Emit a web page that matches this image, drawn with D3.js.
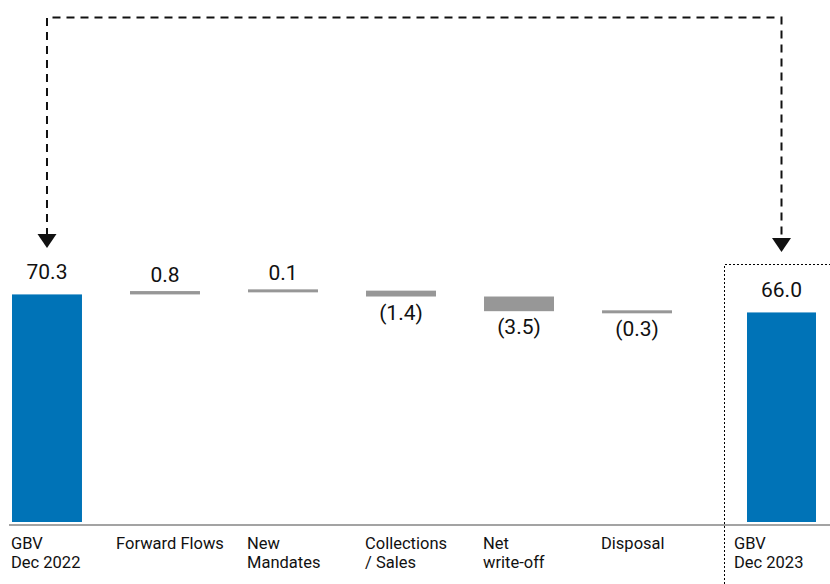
<!DOCTYPE html>
<html>
<head>
<meta charset="utf-8">
<script src="https://cdn.jsdelivr.net/npm/d3@7"></script>
<style>
  body { margin: 0; background: #fff; }
  svg text { font-family: Roboto, "Liberation Sans", sans-serif; fill: #111; }
</style>
</head>
<body>
<svg id="chart" width="830" height="584"></svg>
<script>
// Gross book value bridge, EUR bn
const stepCategories = ["GBV\nDec 2022", "Forward Flows", "New\nMandates", "Collections\n/ Sales", "Net\nwrite-off", "Disposal"];
const closingCategory = "GBV\nDec 2023";
const openingValue = 70.3;
const stepValues = [0.8, 0.1, -1.4, -3.5, -0.3];
const closingValue = 66.0;

const BLUE = "#0073b7";
const GREY = "#979797";

const svg = d3.select("#chart");
const W = 830, H = 584;
const baseY = 522;
const panelX = 724.5;

// build waterfall rows
let running = openingValue;
const rows = [{ cat: stepCategories[0], y0: 0, y1: openingValue, value: openingValue, total: true }];
stepValues.forEach((v, i) => {
  rows.push({ cat: stepCategories[i + 1], y0: running, y1: running + v, value: v, total: false });
  running += v;
});
const closing = { cat: closingCategory, y0: 0, y1: closingValue, value: closingValue, total: true };

// scales: value axis is broken (floor at 16) so the small movements stay visible
const y = d3.scaleLinear().domain([16, 84]).range([baseY, 237]);
const x = d3.scaleBand().domain(stepCategories).range([12, 672]).paddingInner(0.407).paddingOuter(0);
const xEnd = d3.scaleBand().domain([closingCategory]).range([747, 816]);

const fmt = d3.format(".1f");
const label = v => v < 0 ? "(" + fmt(-v) + ")" : fmt(v);

function barTop(d) {
  if (d.total) return y(d.y1);
  const t = y(Math.max(d.y0, d.y1));
  const b = y(Math.min(d.y0, d.y1));
  const h = Math.max(b - t, 3);
  return (t + b) / 2 - h / 2;
}
function barHeight(d) {
  if (d.total) return baseY - y(d.y1);
  return Math.max(Math.abs(y(d.y0) - y(d.y1)), 3);
}

// closing panel (dotted frame)
svg.append("path")
  .attr("d", `M${panelX},${H} V264.5 H${W}`)
  .attr("fill", "none").attr("stroke", "#000").attr("stroke-width", 1)
  .attr("stroke-dasharray", "2,2");

// baseline
svg.append("line")
  .attr("x1", 9).attr("x2", W).attr("y1", 525).attr("y2", 525)
  .attr("stroke", "#a3a3a3").attr("stroke-width", 2);

// bars
const bars = rows.map(d => ({ ...d, xs: x })).concat([{ ...closing, xs: xEnd, inPanel: true }]);
svg.selectAll("rect.bar").data(bars).join("rect")
  .attr("class", "bar")
  .attr("x", d => d.xs(d.cat))
  .attr("width", d => d.xs.bandwidth())
  .attr("y", d => barTop(d))
  .attr("height", d => barHeight(d))
  .attr("fill", d => d.total ? BLUE : GREY);

// value labels
svg.selectAll("text.val").data(bars).join("text")
  .attr("class", "val")
  .attr("x", d => d.xs(d.cat) + d.xs.bandwidth() / 2)
  .attr("y", d => {
    if (d.total) return barTop(d) - 15;
    if (d.value >= 0) return barTop(d) - 9;
    return barTop(d) + barHeight(d) + 23;
  })
  .attr("text-anchor", "middle")
  .attr("font-size", 21)
  .text(d => label(d.value));

// category labels: left-aligned under the bar; wide single lines are centred
bars.forEach(d => {
  const left = d.xs(d.cat);
  const cx = left + d.xs.bandwidth() / 2;
  const t = svg.append("text").attr("font-size", 16.5).attr("y", 549);
  d.cat.split("\n").forEach((line, i) => {
    t.append("tspan").attr("x", 0).attr("dy", i === 0 ? 0 : 19).text(line);
  });
  const w = t.node().getBBox().width;
  let start = left - 1;
  if (d.inPanel) start = panelX + 9.5;
  else if (w > 100) start = cx + 5 - w / 2;
  t.selectAll("tspan").attr("x", start);
});

// dashed connector from opening to closing GBV
const xl = x(stepCategories[0]) + x.bandwidth() / 2;
const xr = xEnd(closingCategory) + xEnd.bandwidth() / 2;
const tipL = 248, tipR = 252, topY = 17.5;
svg.append("path")
  .attr("d", `M${xl},${tipL - 12} V${topY} H${xr} V${tipR - 12}`)
  .attr("fill", "none").attr("stroke", "#111").attr("stroke-width", 2)
  .attr("stroke-dasharray", "8,6");
[[xl, tipL], [xr, tipR]].forEach(([ax, ay]) => {
  svg.append("path")
    .attr("d", `M${ax - 9.5},${ay - 14} L${ax + 9.5},${ay - 14} L${ax},${ay} Z`)
    .attr("fill", "#111");
});
</script>
</body>
</html>
